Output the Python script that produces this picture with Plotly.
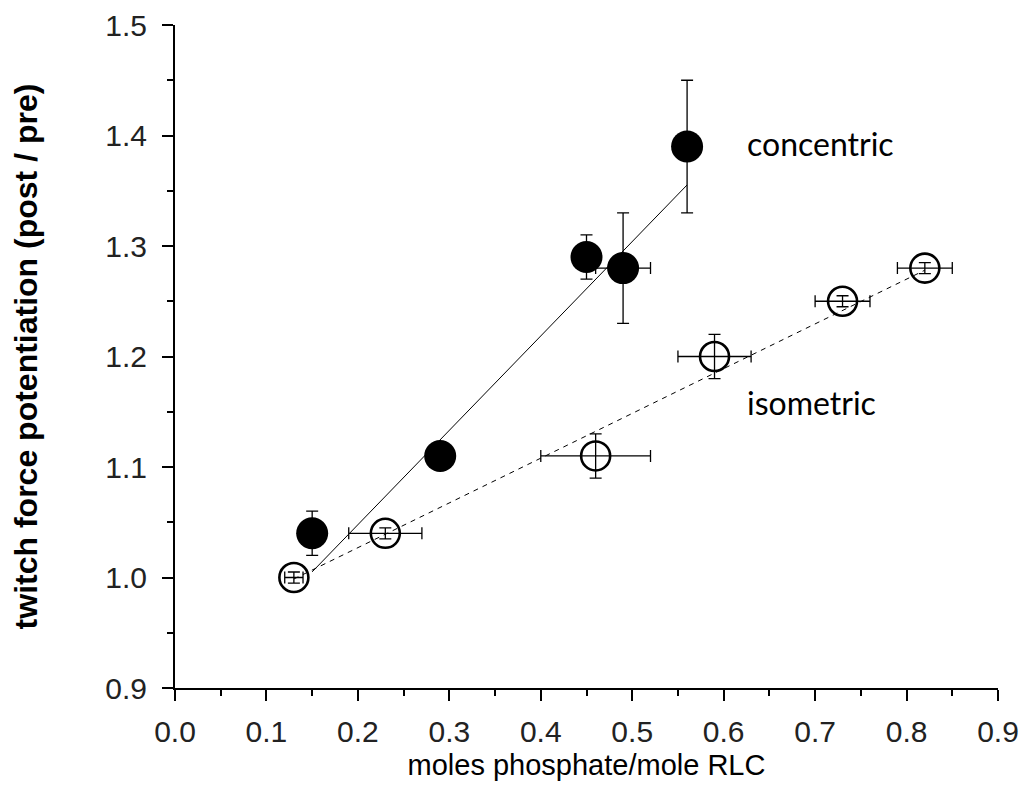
import plotly.graph_objects as go

# Concentric (filled)
conc_x = [0.15, 0.29, 0.45, 0.49, 0.56]
conc_y = [1.04, 1.11, 1.29, 1.28, 1.39]
conc_xerr = [0.01, 0.01, 0.01, 0.03, 0.01]
conc_yerr = [0.02, 0.005, 0.02, 0.05, 0.06]

# Isometric (open)
iso_x = [0.13, 0.23, 0.46, 0.59, 0.73, 0.82]
iso_y = [1.00, 1.04, 1.11, 1.20, 1.25, 1.28]
iso_xerr = [0.01, 0.04, 0.06, 0.04, 0.03, 0.03]
iso_yerr = [0.005, 0.005, 0.02, 0.02, 0.005, 0.005]

# Linear fits (slope, intercept, x-span)
conc_fit = dict(slope=0.854, intercept=0.877, x=[0.15, 0.56])
iso_fit = dict(slope=0.405, intercept=0.946, x=[0.13, 0.82])

x_ticks = [0.0, 0.1, 0.2, 0.3, 0.4, 0.5, 0.6, 0.7, 0.8, 0.9]
y_ticks = [0.9, 1.0, 1.1, 1.2, 1.3, 1.4, 1.5]

FONT = "Liberation Sans, Arial, sans-serif"
LABEL_FONT = "Lato, Open Sans, sans-serif"

fig = go.Figure()

for fit, dash in [(conc_fit, "solid"), (iso_fit, "5px,5px")]:
    fig.add_trace(go.Scatter(
        x=fit["x"], y=[fit["intercept"] + fit["slope"] * v for v in fit["x"]],
        mode="lines", line=dict(color="black", width=1, dash=dash),
        showlegend=False, hoverinfo="skip"))

fig.add_trace(go.Scatter(
    x=conc_x, y=conc_y, mode="markers",
    marker=dict(symbol="circle", size=32, color="black"),
    error_x=dict(type="data", array=conc_xerr, color="black", thickness=1.3, width=6),
    error_y=dict(type="data", array=conc_yerr, color="black", thickness=1.3, width=6),
    showlegend=False))

fig.add_trace(go.Scatter(
    x=iso_x, y=iso_y, mode="markers",
    marker=dict(symbol="circle-open", size=29, color="black", line=dict(width=2.6)),
    error_x=dict(type="data", array=iso_xerr, color="black", thickness=1.3, width=6),
    error_y=dict(type="data", array=iso_yerr, color="black", thickness=1.3, width=6),
    showlegend=False))

fig.add_annotation(x=0.623, y=1.393, text="concentric", showarrow=False,
                   xanchor="left", yanchor="middle", font=dict(family=LABEL_FONT, size=32, color="black"))
fig.add_annotation(x=0.623, y=1.158, text="isometric", showarrow=False,
                   xanchor="left", yanchor="middle", font=dict(family=LABEL_FONT, size=32, color="black"))

axis_common = dict(showgrid=False, zeroline=False, showline=True, linecolor="black", linewidth=2,
                   ticks="outside", ticklen=11, tickwidth=2, tickcolor="black", automargin=False,
                   tickfont=dict(family=FONT, size=30, color="#222"),
                   minor=dict(ticks="outside", ticklen=6, tickwidth=2, tickcolor="black", dtick=0.05))

fig.update_xaxes(range=[0, 0.9], tickvals=x_ticks, ticktext=[f"{v:.1f}" for v in x_ticks],
                 ticklabelstandoff=5,
                 title=dict(text="moles phosphate/mole RLC", font=dict(family=FONT, size=29, color="black"), standoff=8),
                 **axis_common)
fig.update_yaxes(range=[0.9, 1.5], tickvals=y_ticks, ticktext=[f"{v:.1f}" for v in y_ticks],
                 ticklabelstandoff=9,
                 title=dict(text="<b>twitch force potentiation (post / pre)</b>", font=dict(family=FONT, size=32, color="black"), standoff=58),
                 **axis_common)

fig.update_layout(width=1019, height=782, plot_bgcolor="white", paper_bgcolor="white",
                  margin=dict(l=167, r=29, t=17, b=102))

fig.write_html("out.html")
